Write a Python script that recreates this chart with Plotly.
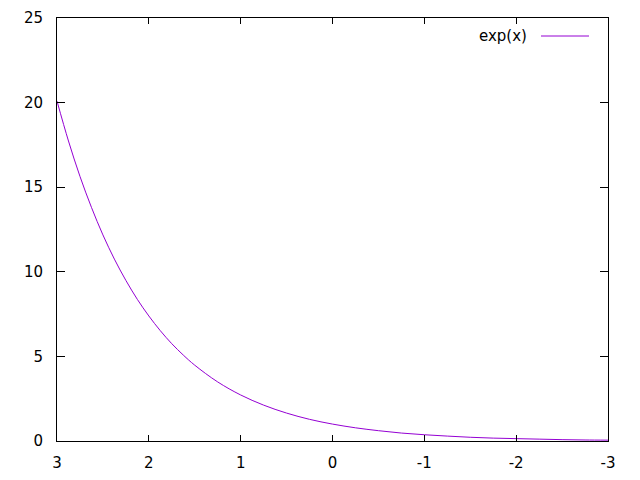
import plotly.graph_objects as go

# values (curve labelled exp(x))
x_vals = [3.0, 2.875, 2.75, 2.625, 2.5, 2.375, 2.25, 2.125, 2.0, 1.875, 1.75, 1.625, 1.5,
          1.25, 1.0, 0.75, 0.5, 0.25, 0.0, -0.25, -0.5, -0.75, -1.0, -1.25, -1.5,
          -1.75, -2.0, -2.25, -2.5, -2.75, -3.0]
y_vals = [20.09, 17.73, 15.64, 13.81, 12.18, 10.75, 9.49, 8.37, 7.39, 6.52, 5.75, 5.08, 4.48,
          3.49, 2.72, 2.12, 1.65, 1.28, 1.00, 0.78, 0.61, 0.47, 0.37, 0.29, 0.22,
          0.17, 0.14, 0.11, 0.08, 0.06, 0.05]
x_ticks = [3, 2, 1, 0, -1, -2, -3]
x_tick_labels = ["3", "2", "1", "0", "-1", "-2", "-3"]
y_ticks = [0, 5, 10, 15, 20, 25]
y_tick_labels = ["0", "5", "10", "15", "20", "25"]
series_name = "exp(x)"
line_color = "#9400D3"

fig = go.Figure()
fig.add_trace(go.Scatter(x=x_vals, y=y_vals, mode="lines", name=series_name,
                         line=dict(color=line_color, width=1, shape="spline"),
                         showlegend=False))

font = dict(family="DejaVu Sans", size=15, color="black")
axis_common = dict(showline=True, linecolor="black", linewidth=1, mirror="allticks",
                   ticks="inside", tickcolor="black", showgrid=False, zeroline=False,
                   tickfont=font, automargin=False)
fig.update_xaxes(range=[3, -3], tickvals=x_ticks, ticktext=x_tick_labels, ticklen=6,
                 ticklabelstandoff=8, **axis_common)
fig.update_yaxes(range=[0, 25], tickvals=y_ticks, ticktext=y_tick_labels, ticklen=8,
                 ticklabelstandoff=10, **axis_common)

W, H = 640, 480
l, r, t, b = 57, 32, 18, 39
pw, ph = W - l - r, H - t - b
def px_x(px):
    return (px - l) / pw
def px_y(py):
    return 1 - (py - t) / ph

fig.add_annotation(x=px_x(529), y=px_y(36), xref="x domain", yref="y domain", text=series_name,
                   showarrow=False, font=font, xanchor="right", yanchor="middle")
fig.add_shape(type="line", xref="x domain", yref="y domain",
              x0=px_x(541), x1=px_x(589), y0=px_y(36), y1=px_y(36),
              line=dict(color=line_color, width=1))

fig.update_layout(width=W, height=H, margin=dict(l=l, r=r, t=t, b=b, pad=0),
                  plot_bgcolor="white", paper_bgcolor="white", font=font)
fig.write_html("out.html", config={"displayModeBar": False})

with open("out.html", encoding="utf-8") as f:
    html = f.read()
html = html.replace("<body>", '<body style="margin:0;padding:0;overflow:hidden">', 1)
with open("out.html", "w", encoding="utf-8") as f:
    f.write(html)
